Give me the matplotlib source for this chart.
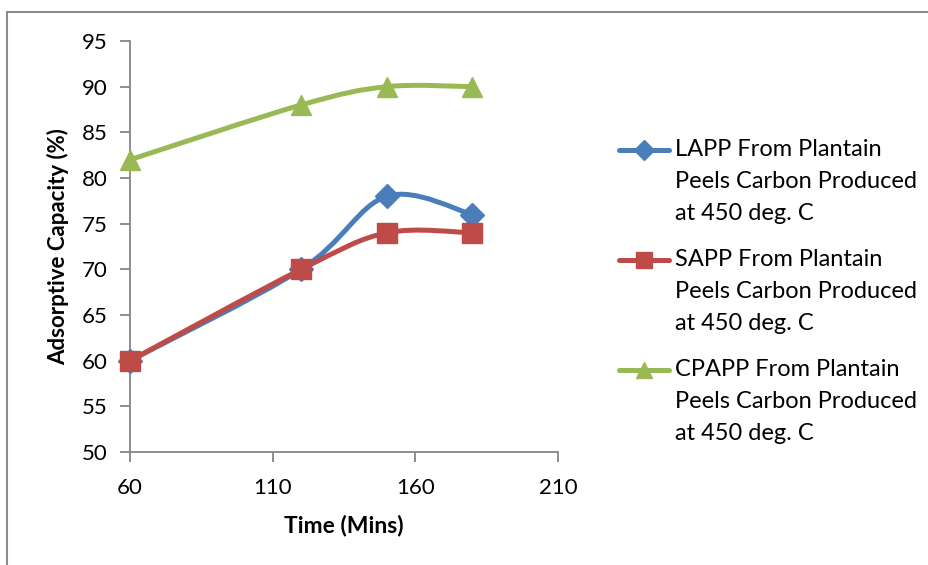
import matplotlib.pyplot as plt
from matplotlib.path import Path
from matplotlib.patches import PathPatch
from matplotlib.lines import Line2D
import numpy as np

plt.rcParams['font.family'] = ['Lato', 'DejaVu Sans']

# Data ########################################################

time_mins = [60, 120, 150, 180]
lapp = [60, 70, 78, 76]
sapp = [60, 70, 74, 74]
cpapp = [82, 88, 90, 90]

labels = ["LAPP From Plantain\nPeels Carbon Produced\nat 450 deg. C",
          "SAPP From Plantain\nPeels Carbon Produced\nat 450 deg. C",
          "CPAPP From Plantain\nPeels Carbon Produced\nat 450 deg. C"]
colors = ["#4A7EBB", "#BE4B48", "#98B954"]
markers = ["D", "s", "^"]
msizes = [12, 14, 14]


def smooth_path(x, y):
    # Excel-like smoothed line: Bezier segments with Catmull-Rom control points
    p = np.column_stack([x, y]).astype(float)
    verts = [p[0]]
    codes = [Path.MOVETO]
    n = len(p)
    for i in range(n - 1):
        p0 = p[i - 1] if i > 0 else p[i]
        p3 = p[i + 2] if i + 2 < n else p[i + 1]
        c1 = p[i] + (p[i + 1] - p0) / 6.0
        c2 = p[i + 1] - (p3 - p[i]) / 6.0
        verts += [c1, c2, p[i + 1]]
        codes += [Path.CURVE4] * 3
    return Path(verts, codes)


# Plot ########################################################

W, H = 929, 565
fig = plt.figure(figsize=(W / 100, H / 100), dpi=100)
ax = fig.add_axes([130 / W, 1 - 452 / H, 428 / W, 411 / H])

for ys, c, m, ms in zip([lapp, sapp, cpapp], colors, markers, msizes):
    ax.add_patch(PathPatch(smooth_path(time_mins, ys), fc='none', ec=c, lw=3.6,
                           capstyle='round', zorder=2))
    ax.plot(time_mins, ys, linestyle='None', marker=m, ms=ms, color=c, zorder=3,
            clip_on=False)

ax.set_xlim(60, 210)
ax.set_ylim(50, 95)
ax.set_xticks([60, 110, 160, 210])
ax.set_yticks(range(50, 96, 5))

for s in ['top', 'right']:
    ax.spines[s].set_visible(False)
for s in ['left', 'bottom']:
    ax.spines[s].set_color('#868686')
    ax.spines[s].set_linewidth(1.3)
ax.tick_params(colors='#868686', labelcolor='black', labelsize=16, length=7, width=1.3)
ax.tick_params(axis='x', pad=12)
ax.tick_params(axis='y', pad=9)

ax.set_xlabel("Time (Mins)", fontsize=16.5, fontweight='bold', labelpad=12)
ax.set_ylabel("Adsorptive Capacity (%)", fontsize=16, fontweight='bold', labelpad=9)

# Legend (Excel style: handle aligned with first line of each entry)
entry_top = [150, 260, 370]
leg_msizes = [10, 11, 11]
for y0, lab, c, m, ms in zip(entry_top, labels, colors, markers, leg_msizes):
    fy = 1 - y0 / H
    fig.add_artist(Line2D([619 / W, 669 / W], [fy, fy], color=c, lw=3.6,
                          solid_capstyle='round'))
    fig.add_artist(Line2D([644 / W], [fy], color=c, marker=m, ms=ms, linestyle='None'))
    for k, line in enumerate(lab.split("\n")):
        fig.text(675 / W, 1 - (y0 + 32 * k) / H, line, fontsize=17,
                 ha='left', va='center')

# Outer chart border (cropped on right/bottom)
fig.add_artist(Line2D([7.5 / W, 7.5 / W], [0, 1 - 12 / H], color='#8c8c8c', lw=1.5))
fig.add_artist(Line2D([7.5 / W, 1], [1 - 12 / H, 1 - 12 / H], color='#8c8c8c', lw=1.5))

plt.savefig("out.png", dpi=100)
